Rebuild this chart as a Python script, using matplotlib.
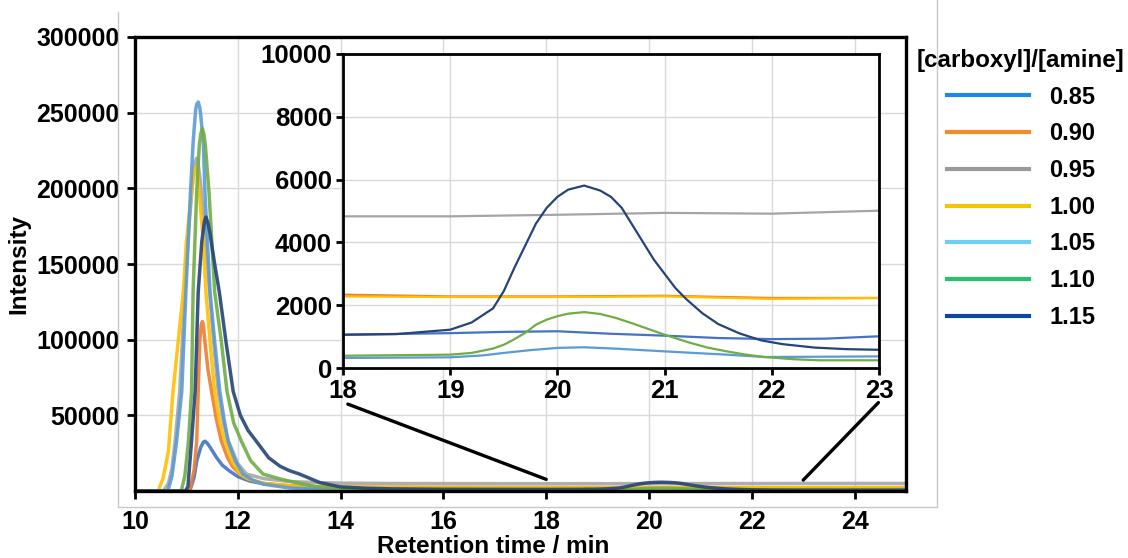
import matplotlib
matplotlib.use("Agg")
import matplotlib.pyplot as plt
from matplotlib.lines import Line2D
from matplotlib.patches import ConnectionPatch

plt.rcParams['font.family'] = ['Liberation Sans', 'DejaVu Sans']
plt.rcParams['font.weight'] = 'bold'
plt.rcParams['font.size'] = 17

ratios = ['0.85', '0.90', '0.95', '1.00', '1.05', '1.10', '1.15']

# retention time (min) / intensity
t_085 = [10.0, 11.0, 11.07, 11.15, 11.2, 11.28, 11.33, 11.36, 11.4, 11.45, 11.59, 11.7, 11.84, 12.0, 12.23, 12.5,
         13.0, 13.5, 14, 15, 16, 17, 18, 19, 19.5, 20, 20.5, 21, 21.5, 22, 22.5, 23, 24, 25]
i_085 = [0, 0, 500, 9000, 19700, 29000, 32300, 32900, 31800, 29500, 21900, 17000, 13200, 9500, 6600, 4800,
         3300, 2300, 1700, 1300, 1150, 1100, 1060, 1110, 1150, 1170, 1090, 1030, 955, 920, 935, 1010, 1000, 1000]

t_090 = [10.0, 11.0, 11.07, 11.15, 11.2, 11.23, 11.26, 11.29, 11.31, 11.33, 11.36, 11.42, 11.49, 11.58, 11.68,
         11.8, 11.9, 12.04, 12.2, 12.5, 13.0, 13.5, 14, 15, 16, 17, 18, 19, 20, 21, 22, 23, 24, 25]
i_090 = [0, 0, 800, 14000, 32900, 65800, 98700, 110000, 112000, 110000, 98700, 80000, 65800, 48000, 32900,
         22000, 16000, 11200, 8000, 5000, 3500, 2900, 2600, 2450, 2400, 2350, 2335, 2280, 2280, 2300, 2230,
         2230, 2220, 2220]

t_095 = [10.0, 10.55, 10.65, 10.72, 10.78, 10.87, 10.92, 10.97, 11.05, 11.13, 11.17, 11.2, 11.23, 11.27, 11.35,
         11.45, 11.53, 11.62, 11.72, 11.82, 12.0, 12.17, 12.5, 13.0, 13.5, 14, 15, 16, 17, 18, 19, 20, 21, 22,
         23, 24, 25]
i_095 = [0, 0, 5000, 15000, 32900, 65800, 98700, 131600, 175000, 208000, 217000, 220000, 216000, 205000,
         175000, 131600, 98700, 65800, 45000, 32900, 18000, 11200, 8200, 6300, 5600, 5200, 4950, 4880, 4850,
         4830, 4830, 4880, 4940, 4915, 5010, 5000, 5000]

t_100 = [10.0, 10.45, 10.55, 10.65, 10.74, 10.84, 10.94, 11.0, 11.1, 11.15, 11.18, 11.21, 11.25, 11.33, 11.38,
         11.46, 11.55, 11.65, 11.75, 11.9, 12.04, 12.2, 12.5, 13.0, 13.5, 14, 15, 16, 17, 18, 19, 20, 21, 22,
         23, 24, 25]
i_100 = [0, 0, 8800, 26300, 65800, 98700, 131600, 164500, 197400, 210000, 214000, 211000, 197400, 164500,
         131600, 98700, 65800, 45000, 32900, 19000, 11200, 8000, 5000, 3500, 2900, 2600, 2450, 2400, 2320, 2280,
         2260, 2260, 2280, 2200, 2230, 2220, 2220]

t_105 = [10.0, 10.64, 10.72, 10.81, 10.91, 10.95, 10.99, 11.08, 11.13, 11.18, 11.2, 11.23, 11.26, 11.28, 11.33,
         11.36, 11.46, 11.55, 11.65, 11.73, 11.81, 11.95, 12.1, 12.3, 12.5, 13.0, 13.5, 14, 15, 16, 17, 18, 19,
         19.3, 19.5, 19.75, 20, 20.25, 20.55, 21, 21.3, 21.58, 21.93, 22.5, 23, 24, 25]
i_105 = [0, 0, 10000, 32900, 65800, 98700, 131600, 197400, 230000, 252000, 255500, 257000, 253500, 248000,
         230000, 197400, 131600, 98700, 65800, 48000, 32900, 20000, 11200, 7000, 4500, 2000, 1200, 800, 500,
         400, 350, 320, 340, 400, 480, 570, 640, 660, 615, 530, 475, 425, 350, 360, 370, 370, 370]

t_110 = [10.0, 10.9, 10.97, 11.04, 11.1, 11.13, 11.2, 11.25, 11.28, 11.31, 11.34, 11.37, 11.44, 11.55, 11.68,
         11.79, 11.92, 12.07, 12.25, 12.49, 12.82, 13.0, 13.5, 14, 15, 16, 17, 18, 19, 19.2, 19.4, 19.5, 19.6,
         19.7, 19.8, 19.9, 20.0, 20.1, 20.25, 20.4, 20.55, 20.7, 20.85, 21.0, 21.24, 21.4, 21.58, 21.75, 21.93,
         22.2, 22.45, 23, 24, 25]
i_110 = [0, 0, 10000, 32900, 65800, 131600, 197400, 228000, 236000, 239500, 236000, 228000, 197400, 131600,
         98700, 65800, 45000, 32900, 20000, 11200, 8000, 6500, 3000, 1500, 700, 500, 420, 390, 425, 480, 620,
         740, 920, 1120, 1380, 1540, 1650, 1730, 1780, 1720, 1590, 1420, 1240, 1060, 800, 650, 530, 430, 350,
         280, 245, 245, 240, 240]

t_115 = [10.0, 10.98, 11.03, 11.1, 11.17, 11.23, 11.3, 11.35, 11.38, 11.42, 11.46, 11.55, 11.64, 11.77, 11.91,
         12.05, 12.2, 12.36, 12.6, 12.82, 13.0, 13.2, 13.6, 14.0, 14.5, 15, 16, 17, 18, 18.5, 19, 19.2, 19.4,
         19.5, 19.6, 19.7, 19.8, 19.9, 20.0, 20.1, 20.25, 20.4, 20.5, 20.6, 20.7, 20.8, 20.9, 21.0, 21.1, 21.2,
         21.35, 21.5, 21.7, 21.9, 22.1, 22.4, 22.7, 23, 24, 25]
i_115 = [0, 0, 3000, 32900, 65800, 131600, 165000, 178000, 181000, 177000, 170000, 150000, 131600, 98700,
         65800, 50000, 40000, 32900, 22000, 16400, 13500, 11200, 5500, 2700, 1800, 1400, 1150, 1080, 1060, 1080,
         1220, 1450, 1900, 2450, 3200, 3900, 4600, 5100, 5450, 5680, 5810, 5650, 5450, 5100, 4550, 4000, 3450,
         3000, 2550, 2200, 1750, 1400, 1100, 880, 760, 650, 600, 580, 570, 570]

times = [t_085, t_090, t_095, t_100, t_105, t_110, t_115]
intens = [i_085, i_090, i_095, i_100, i_105, i_110, i_115]

plot_colors = ['#4472C4', '#ED7D31', '#A5A5A5', '#FFC000', '#5B9BD5', '#70AD47', '#264478']
legend_colors = ['#1E88E5', '#F28C28', '#999999', '#F5C400', '#6DCFF6', '#22C46B', '#0D47A1']

main_xticks = [10, 12, 14, 16, 18, 20, 22, 24]
main_yticks = [50000, 100000, 150000, 200000, 250000, 300000]
inset_xticks = [18, 19, 20, 21, 22, 23]
inset_yticks = [0, 2000, 4000, 6000, 8000, 10000]

fig = plt.figure(figsize=(11.28, 5.58), dpi=100)

# light grey chart-area border
frame = dict(color='#C8C8C8', lw=1, transform=fig.transFigure)
fig.add_artist(Line2D([118/1128, 118/1128], [1-507/558, 1-12/558], **frame))
fig.add_artist(Line2D([937/1128, 937/1128], [1-507/558, 1.0], **frame))
fig.add_artist(Line2D([118/1128, 937/1128], [1-507/558, 1-507/558], **frame))

ax = fig.add_axes([135/1128, 1-491/558, 771/1128, 454/558])
for t, y, c in zip(times, intens, plot_colors):
    ax.plot(t, y, color=c, lw=2.5, alpha=0.9, solid_joinstyle='round')
ax.set_xlim(10, 25)
ax.set_ylim(0, 300000)
ax.set_xticks(main_xticks)
ax.set_yticks(main_yticks)
ax.grid(True, color='#D9D9D9', lw=1)
ax.set_axisbelow(True)
for s in ax.spines.values():
    s.set_linewidth(2.4)
ax.tick_params(axis='both', direction='out', width=2, length=6, labelsize=18)
ax.tick_params(axis='x', pad=8)
ax.tick_params(axis='y', pad=5)
ax.set_xlabel('Retention time / min', fontsize=17.5, fontweight='bold')
ax.xaxis.set_label_coords(0.464, -0.096)
ax.set_ylabel('Intensity', fontsize=17.5, fontweight='bold')
ax.yaxis.set_label_coords(-0.136, 0.5)

axins = fig.add_axes([343/1128, 1-368/558, 536/1128, 314/558])
axins.set_facecolor('white')
for t, y, c in zip(times, intens, plot_colors):
    axins.plot(t, y, color=c, lw=1.6)
axins.set_xlim(18, 23)
axins.set_ylim(0, 10000)
axins.set_xticks(inset_xticks)
axins.set_yticks(inset_yticks)
axins.grid(True, color='#D9D9D9', lw=1)
axins.set_axisbelow(True)
for s in axins.spines.values():
    s.set_linewidth(2)
axins.tick_params(axis='both', direction='out', width=2, length=5, labelsize=18.5, pad=3)

# zoom connectors
for xa, ya, xb, yb in [(0.009, -0.115, 18, 7700), (0.999, -0.11, 23, 7200)]:
    con = ConnectionPatch(xyA=(xa, ya), coordsA=axins.transAxes,
                          xyB=(xb, yb), coordsB=ax.transData, color='black', lw=2.4)
    fig.add_artist(con)

handles = [Line2D([], [], color=c, lw=3) for c in legend_colors]
leg = fig.legend(handles, ratios, title='[carboxyl]/[amine]', loc='upper left',
                 bbox_to_anchor=(917/1128, 1-49/558), frameon=False, borderpad=0,
                 borderaxespad=0, handlelength=3.5, handletextpad=0.85, labelspacing=0.58,
                 prop={'size': 17, 'weight': 'bold'},
                 title_fontproperties={'size': 17.4, 'weight': 'bold'})

fig.savefig('out.png', dpi=100)
